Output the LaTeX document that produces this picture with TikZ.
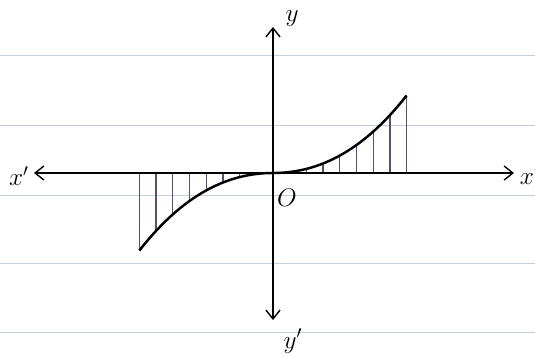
\documentclass[tikz,border=0pt]{standalone}
\usetikzlibrary{arrows.meta}

\definecolor{ruleblue}{RGB}{196,206,222}
\definecolor{hatchgray}{RGB}{80,84,110}

\tikzset{
  paperline/.style={ruleblue, line width=0.5pt},
  axis/.style={line width=0.8pt, {Straight Barb[length=5pt,width=8pt]}-{Straight Barb[length=5pt,width=8pt]}},
  curve/.style={line width=1.4pt},
  hatch/.style={hatchgray, line width=0.75pt},
  label/.style={font=\Large},
  declare function={f(\u)=78*(0.8*(\u/134)*abs(\u/134)+0.2*(\u/134)*(\u/134)*(\u/134));}
}

\begin{document}
\begin{tikzpicture}[x=0.02cm, y=0.02cm]
    \useasboundingbox (-273,-183) rectangle (262,173);

    % ruled paper
    \foreach \ly in {118,48,-22,-90,-159}
        \draw[paperline] (-273,\ly) -- (262,\ly);

    \coordinate (O) at (0,0);
    \coordinate (xleft) at (-239,0);
    \coordinate (xright) at (241,0);
    \coordinate (ytop) at (0,146);
    \coordinate (ybot) at (0,-147);

    % hatching
    \foreach \k in {1,...,8}
        \draw[hatch] ({-16.7*\k},0) -- ({-16.7*\k},{f(-16.7*\k)});
    \foreach \k in {2,...,8}
        \draw[hatch] ({16.7*\k},0) -- ({16.7*\k},{f(16.7*\k)});

    \draw[axis] (xleft) -- (xright);
    \draw[axis] (ybot) -- (ytop);

    \draw[curve] plot[domain=-133.6:133.6, samples=80, smooth] (\x,{f(\x)});

    \node[label] (xp) at (-254,-3) {$x'$};
    \node[label] (xl) at (254,-6) {$x$};
    \node[label] (yl) at (19,154) {$y$};
    \node[label] (yp) at (20,-168) {$y'$};
    \node[label] (ol) at (14,-25) {$O$};
\end{tikzpicture}
\end{document}
